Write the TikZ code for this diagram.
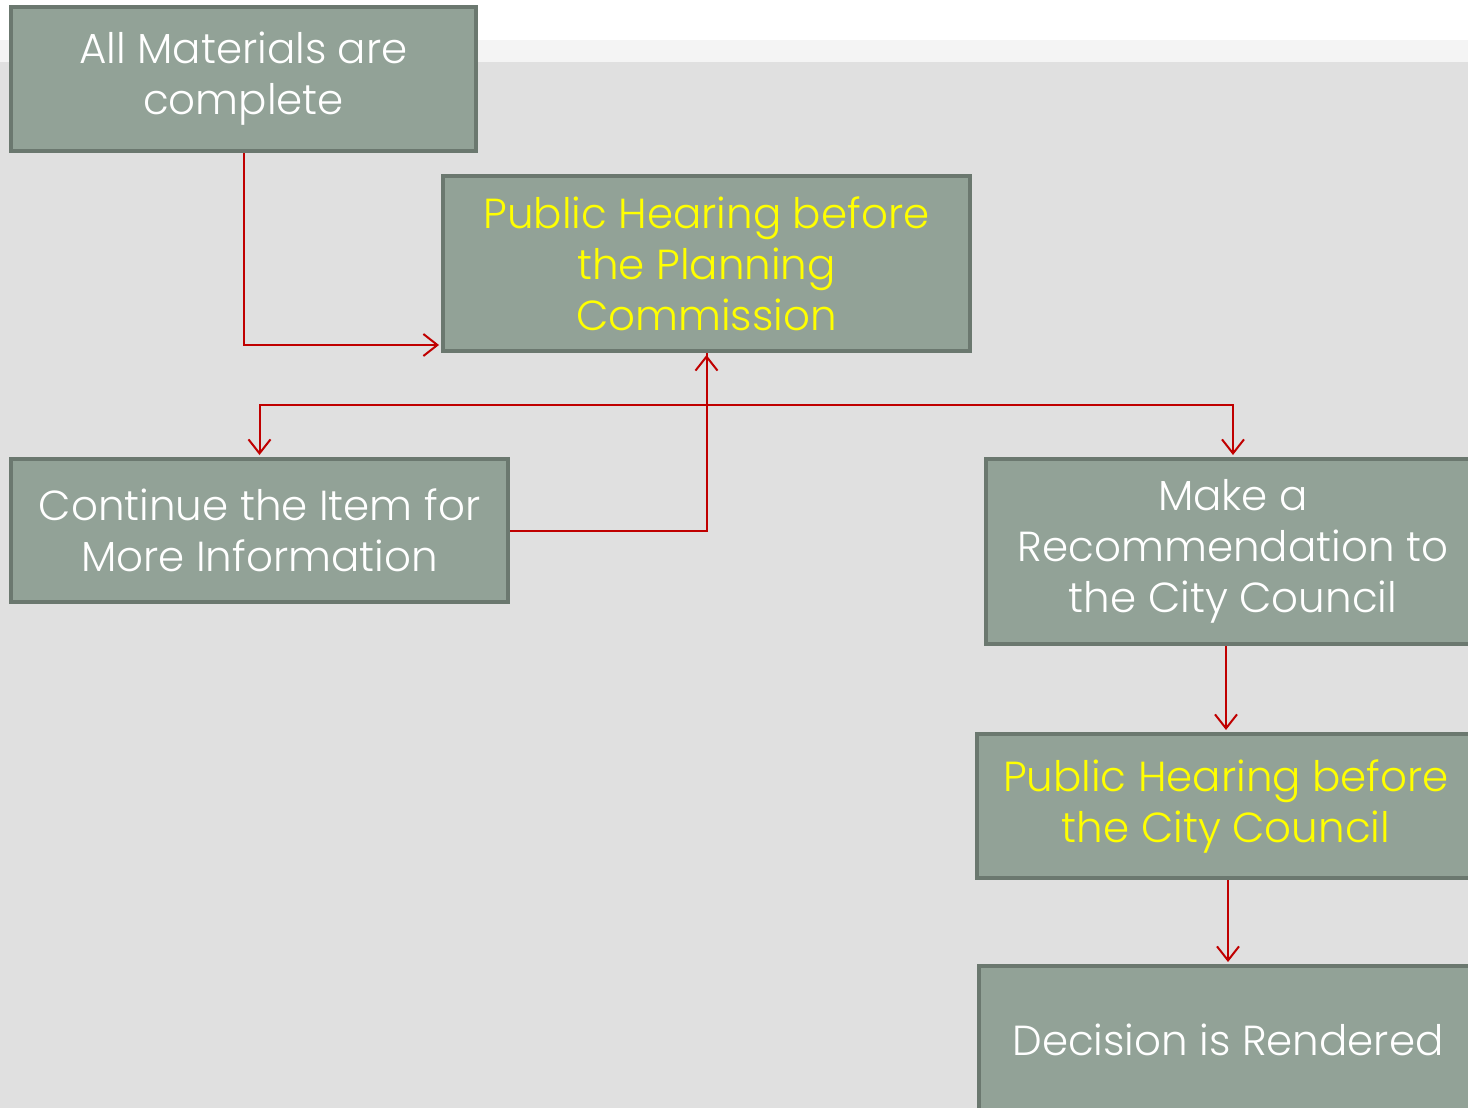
\documentclass[tikz,border=0pt]{standalone}
\usepackage{fontspec}
\setmainfont{Poppins}[UprightFont=* Light]
\usetikzlibrary{arrows.meta}
\definecolor{bgray}{HTML}{E0E0E0}
\definecolor{bstrip}{HTML}{F4F4F4}
\definecolor{boxfill}{HTML}{92A297}
\definecolor{boxline}{HTML}{6B786F}
\definecolor{arrred}{HTML}{C00000}
\definecolor{ytext}{HTML}{FFFF00}
\tikzset{
  box/.style={draw=boxline, line width=4pt, fill=boxfill, align=center,
    inner sep=0pt, font=\fontsize{42}{51}\selectfont},
  wtxt/.style={text=white},
  ytxt/.style={text=ytext},
  arr/.style={draw=arrred, line width=2pt, -{Straight Barb[length=14pt,width=22pt,line width=2pt]}},
}
\begin{document}
\begin{tikzpicture}[x=1pt,y=-1pt]
\useasboundingbox (0,0) rectangle (1468,1108);
\fill[white] (0,0) rectangle (1468,40);
\fill[bstrip] (0,40) rectangle (1468,62);
\fill[bgray] (0,62) rectangle (1468,1108);
\node[box,wtxt,minimum width=465pt,minimum height=144pt] (b1) at (243.5,79) {All Materials are\\complete};
\node[box,ytxt,minimum width=527pt,minimum height=175pt] (b2) at (706.5,263.5) {Public Hearing before\\the Planning\\Commission};
\node[box,wtxt,minimum width=497pt,minimum height=143pt] (b3) at (259.5,530.5) {Continue the Item for\\More Information};
\node[box,wtxt,minimum width=494pt,minimum height=185pt] (b4) at (1233,551.5) {Make a\\Recommendation to\\the City Council};
\node[box,ytxt,minimum width=498pt,minimum height=144pt] (b5) at (1226,806) {Public Hearing before\\the City Council};
\node[box,wtxt,minimum width=498pt,minimum height=148pt] (b6) at (1228,1040) {Decision is Rendered};
\draw[arr] (b1.south) |- ([yshift=8pt,xshift=-2pt]b2.south west);
\draw[arr] (b3.east) -| ([yshift=-2pt]b2.south);
\coordinate (split) at ([yshift=-52pt]b2.south);
\draw[arr] (b2.south) -- (split) -| ([yshift=2pt]b3.north);
\draw[arr] (b2.south) -- (split) -| ([yshift=2pt]b4.north);
\draw[arr] (b5.north |- b4.south) -- ([yshift=2pt]b5.north);
\draw[arr] (b6.north |- b5.south) -- ([yshift=2pt]b6.north);
\end{tikzpicture}
\end{document}
